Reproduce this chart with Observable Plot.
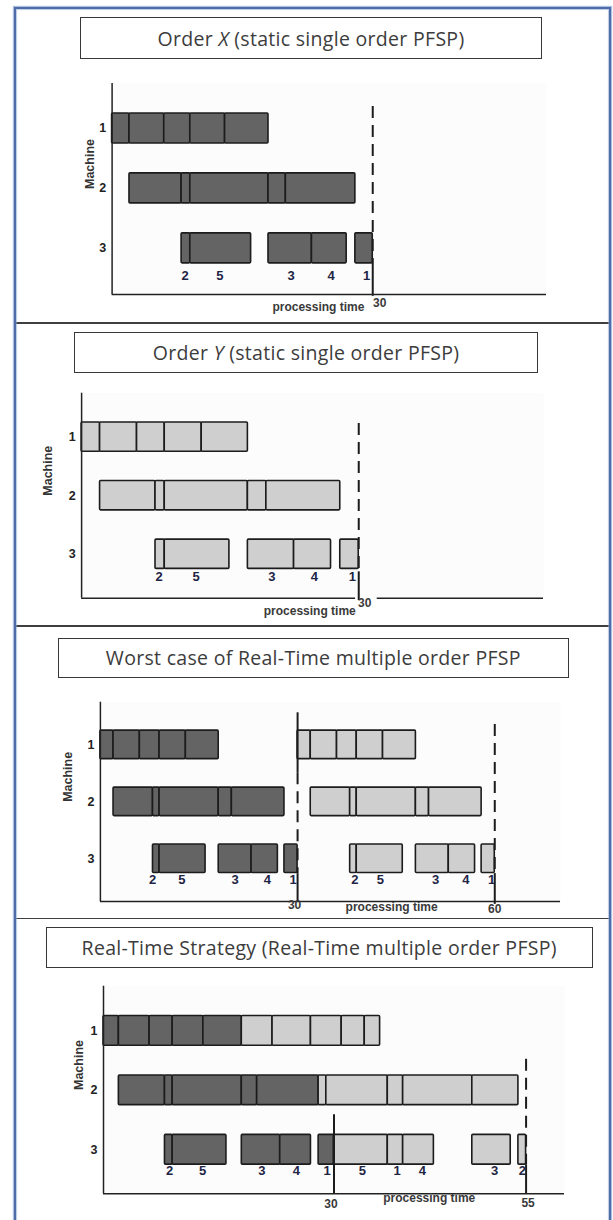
<!DOCTYPE html>
<html>
<head>
<meta charset="utf-8">
<script src="https://cdn.jsdelivr.net/npm/d3@7"></script>
<script src="https://cdn.jsdelivr.net/npm/@observablehq/plot@0.6"></script>
<style>
  html, body { margin: 0; padding: 0; background: #fff; }
  #page { position: relative; width: 613px; height: 1220px; overflow: hidden; background: #fff; }
  .title {
    position: absolute; box-sizing: border-box; border: 1.8px solid #383838;
    display: flex; align-items: center; justify-content: center;
    font-family: "Open Sans", Lato, sans-serif; font-size: 19.5px; letter-spacing: 0.3px; color: #3c3c3c;
    white-space: nowrap; background: #fff;
  }
  .title span { white-space: pre; }
  .sep { position: absolute; left: 15px; width: 595px; height: 1.5px; background: #3f3f3f; }
  .frame {
    position: absolute; left: 14px; top: 7px; width: 597px; height: 1240px; box-sizing: border-box;
    border: 2px solid #4d6ca8; box-shadow: 0 0 1px 1px rgba(140,165,210,0.7), inset 0 0 1px 1px rgba(140,165,210,0.6);
  }
  .holder { position: absolute; left: 0; }
</style>
</head>
<body>
<div id="page"></div>
<script>
// ---------- DATA ----------
const machines = [1, 2, 3];

// Order X / Order Y (static single order PFSP) - same schedule
const singleMachine = [1, 1, 1, 1, 1, 2, 2, 2, 2, 2, 3, 3, 3, 3, 3];
const singleStart   = [0, 2, 6, 9, 13, 2, 8, 9, 18, 20, 8, 9, 18, 23, 28];
const singleEnd     = [2, 6, 9, 13, 18, 8, 9, 18, 20, 28, 9, 16, 23, 27, 30];
const singleJobs    = ["2", "5", "3", "4", "1"];
const singleJobX    = [8.4, 12.4, 20.6, 25.2, 29.3];

// Worst case of Real-Time multiple order PFSP
const worstMachine = [1,1,1,1,1,1,1,1,1,1, 2,2,2,2,2,2,2,2,2,2, 3,3,3,3,3,3,3,3,3,3];
const worstStart   = [0,2,6,9,13, 30,32,36,39,43, 2,8,9,18,20, 32,38,39,48,50, 8,9,18,23,28, 38,39,48,53,58];
const worstEnd     = [2,6,9,13,18, 32,36,39,43,48, 8,9,18,20,28, 38,39,48,50,58, 9,16,23,27,30, 39,46,53,57,60];
const worstOrder   = ["X","X","X","X","X","Y","Y","Y","Y","Y", "X","X","X","X","X","Y","Y","Y","Y","Y", "X","X","X","X","X","Y","Y","Y","Y","Y"];
const worstJobs    = ["2","5","3","4","1","2","5","3","4","1"];
const worstJobX    = [7.95, 12.4, 20.5, 25.4, 29.3, 38.7, 42.6, 51, 55.6, 59.5];

// Real-Time Strategy (Real-Time multiple order PFSP)
const rtMachine = [1,1,1,1,1,1,1,1,1,1, 2,2,2,2,2,2,2,2,2,2, 3,3,3,3,3,3,3,3,3,3];
const rtStart   = [0,2,6,9,13, 18,22,27,31,34, 2,8,9,18,20, 28,29,37,39,48, 8,9,18,23,28, 30,37,39,48,54];
const rtEnd     = [2,6,9,13,18, 22,27,31,34,36, 8,9,18,20,28, 29,37,39,48,54, 9,16,23,27,30, 37,39,43,53,55];
const rtOrder   = ["X","X","X","X","X","Y","Y","Y","Y","Y", "X","X","X","X","X","Y","Y","Y","Y","Y", "X","X","X","X","X","Y","Y","Y","Y","Y"];
const rtJobs    = ["2","5","3","4","1","5","1","4","3","2"];
const rtJobX    = [8.6, 12.9, 20.6, 25.1, 29.1, 33.7, 38.2, 41.5, 50.9, 54.5];

const axisLabelX = "processing time";
const axisLabelY = "Machine";

// ---------- STYLE / LAYOUT ----------
const orderFill = { X: "#646464", Y: "#cfcfcf" };
const FONT = '"Liberation Sans", Arial, sans-serif';

const panels = [
  {
    title: 'Order <i>X</i> (static single order PFSP)', box: [80, 17, 462, 42],
    top: 0, height: 320, mL: 111.6, mR: 67, mT: 83, mB: 26, xd: [0, 50], yd: [0.25, 3.77],
    machine: singleMachine, start: singleStart, end: singleEnd, order: singleMachine.map(() => "X"),
    jobs: singleJobs, jobX: singleJobX, jobDy: 27,
    markers: [{ x: 30, segs: [[0.634, 3.37, true], [3.37, 3.8, false]] }],
    ticks: [{ v: 30, dx: 7, dy: 12 }], xl: 23.75, xlDy: 16, machDx: -22.6, axisSegs: null
  },
  {
    title: 'Order <i>Y</i> (static single order PFSP)', box: [74.4, 331.7, 463.4, 41],
    top: 320, height: 305, mL: 81.1, mR: 70, mT: 72.7, mB: 27.3, xd: [0, 50], yd: [0.25, 3.75],
    machine: singleMachine, start: singleStart, end: singleEnd, order: singleMachine.map(() => "Y"),
    jobs: singleJobs, jobX: singleJobX, jobDy: 22.3,
    markers: [{ x: 30, segs: [[0.767, 3.3, true], [3.3, 3.79, false]] }],
    ticks: [{ v: 30, dx: 6, dy: 9 }], xl: 24.7, xlDy: 17, machDx: -33.3, axisSegs: [[0, 29.66], [32, 50]]
  },
  {
    title: 'Worst case of Real-Time multiple order PFSP', box: [58, 637.7, 510.7, 40],
    top: 625, height: 293, mL: 99.9, mR: 53, mT: 76.7, mB: 17, xd: [0, 70], yd: [0.25, 3.75],
    machine: worstMachine, start: worstStart, end: worstEnd, order: worstOrder,
    jobs: worstJobs, jobX: worstJobX, jobDy: 20.8,
    markers: [
      { x: 30, segs: [[0.436, 1.49, false], [1.49, 3.26, true], [3.26, 3.75, false]] },
      { x: 60, segs: [[0.64, 3.26, true], [3.26, 3.8, false]] }
    ],
    ticks: [{ v: 30, dx: -3, dy: 7 }, { v: 60, dx: 0, dy: 11 }], xl: 44.3, xlDy: 9, machDx: -32.5, axisSegs: null
  },
  {
    title: 'Real-Time Strategy (Real-Time multiple order PFSP)', box: [45.8, 927.3, 546.8, 41],
    top: 915, height: 305, mL: 103, mR: 49, mT: 70.7, mB: 26.7, xd: [0, 60], yd: [0.25, 3.74],
    machine: rtMachine, start: rtStart, end: rtEnd, order: rtOrder,
    jobs: rtJobs, jobX: rtJobX, jobDy: 20.7,
    markers: [
      { x: 30, segs: [[2.41, 3.74, false]] },
      { x: 55, segs: [[1.48, 3.26, true], [3.26, 3.74, false]] }
    ],
    ticks: [{ v: 30, dx: -3, dy: 14 }, { v: 55, dx: 2, dy: 13 }], xl: 42.4, xlDy: 8.5, machDx: -24.7, axisSegs: null
  }
];

const page = document.getElementById("page");

panels.forEach(p => {
  const idx = d3.range(p.machine.length);
  const half = 0.25;
  const yMax = p.yd[1];
  const barMarks = ["X", "Y"].map(o => Plot.rect(idx.filter(i => p.order[i] === o), {
    x1: i => p.start[i], x2: i => p.end[i],
    y1: i => p.machine[i] - half, y2: i => p.machine[i] + half,
    fill: orderFill[o], stroke: "#1c1c1c", strokeWidth: 1.6, rx: 1
  }));
  const markerMarks = [];
  p.markers.forEach(m => m.segs.forEach(s => {
    markerMarks.push(Plot.ruleX([m.x], {
      y1: s[0], y2: s[1], stroke: "#1c1c1c", strokeWidth: 2,
      strokeDasharray: s[2] ? "12,7" : null
    }));
  }));
  const axisBottom = p.axisSegs
    ? Plot.ruleY(p.axisSegs, { x1: d => d[0], x2: d => d[1], y: () => yMax, stroke: "#222", strokeWidth: 1.5 })
    : Plot.ruleY([yMax], { stroke: "#222", strokeWidth: 1.5 });
  const jIdx = d3.range(p.jobs.length);

  const svg = Plot.plot({
    width: 613, height: p.height,
    marginLeft: p.mL, marginRight: p.mR, marginTop: p.mT, marginBottom: p.mB,
    x: { domain: p.xd, axis: null },
    y: { domain: p.yd, reverse: true, axis: null },
    style: { background: "transparent", fontFamily: FONT, overflow: "visible" },
    marks: [
      Plot.frame({ fill: "#fcfcfc", stroke: "none" }),
      ...barMarks,
      ...markerMarks,
      Plot.ruleX([0], { stroke: "#222", strokeWidth: 1.5 }),
      axisBottom,
      Plot.text(jIdx, {
        x: i => p.jobX[i], y: () => 3, text: i => p.jobs[i], dy: p.jobDy,
        fontSize: 13, fontWeight: "bold", fill: "#1e2444"
      }),
      Plot.text(machines, {
        y: d => d, text: d => String(d), frameAnchor: "left", textAnchor: "end", dx: -6,
        fontSize: 12.5, fontWeight: "bold", fill: "#222"
      }),
      Plot.text([axisLabelY], {
        text: d => d, frameAnchor: "left", rotate: -90, dx: p.machDx,
        fontSize: 12.5, fontWeight: "bold", fill: "#333"
      }),
      Plot.text([axisLabelX], {
        x: () => p.xl, text: d => d, frameAnchor: "bottom", dy: p.xlDy,
        fontSize: 12, fontWeight: "bold", fill: "#3a3a3a"
      }),
      ...p.ticks.map(t => Plot.text([t.v], {
        x: d => d, text: d => String(d), frameAnchor: "bottom", dx: t.dx, dy: t.dy,
        fontSize: 12, fontWeight: "bold", fill: "#3a3a3a"
      }))
    ]
  });
  const holder = document.createElement("div");
  holder.className = "holder";
  holder.style.top = p.top + "px";
  holder.appendChild(svg);
  page.appendChild(holder);

  const t = document.createElement("div");
  t.className = "title";
  t.style.left = p.box[0] + "px";
  t.style.top = p.box[1] + "px";
  t.style.width = p.box[2] + "px";
  t.style.height = p.box[3] + "px";
  t.innerHTML = "<span>" + p.title + "</span>";
  page.appendChild(t);
});

[322, 625, 917.5].forEach(y => {
  const s = document.createElement("div");
  s.className = "sep";
  s.style.top = y + "px";
  page.appendChild(s);
});
const fr = document.createElement("div");
fr.className = "frame";
page.appendChild(fr);
</script>
</body>
</html>
